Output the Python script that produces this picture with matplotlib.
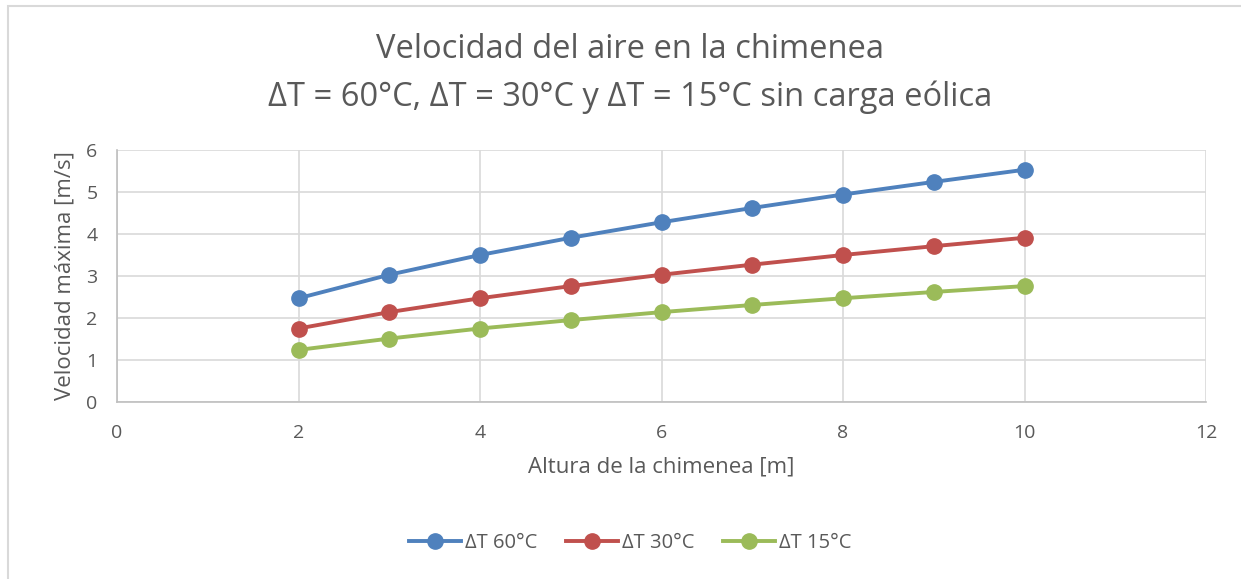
import matplotlib
matplotlib.use('Agg')
from matplotlib import pyplot as plt
from matplotlib.patches import Rectangle

# datos
altura = [2, 3, 4, 5, 6, 7, 8, 9, 10]
v_60 = [2.47, 3.03, 3.50, 3.91, 4.28, 4.62, 4.94, 5.24, 5.53]
v_30 = [1.75, 2.14, 2.47, 2.76, 3.03, 3.27, 3.50, 3.71, 3.91]
v_15 = [1.24, 1.51, 1.75, 1.95, 2.14, 2.31, 2.47, 2.62, 2.76]
etiquetas = ['ΔT 60°C', 'ΔT 30°C', 'ΔT 15°C']
colores = ['#4F81BD', '#C0504D', '#9BBB59']

plt.rcParams['font.family'] = ['Open Sans', 'DejaVu Sans']
gris = '#595959'

fig = plt.figure(figsize=(12.41, 5.79), dpi=100)
ax = fig.add_axes([117 / 1241, 1 - 402 / 579, (1206 - 117) / 1241, (402 - 150) / 579])

# borde exterior del gráfico
fig.patches.append(Rectangle((8 / 1241, -0.01), 1.0, 1 - 6 / 579 + 0.01,
                             transform=fig.transFigure, fill=False,
                             edgecolor='#d9d9d9', linewidth=1.5))

for serie, etq, col in zip([v_60, v_30, v_15], etiquetas, colores):
    ax.plot(altura, serie, color=col, lw=2.8, marker='o', ms=11, label=etq, zorder=3)

ax.set_xlim(0, 12)
ax.set_ylim(0, 6)
ax.set_xticks(range(0, 13, 2))
ax.set_yticks(range(0, 7))
ax.grid(True, color='#d9d9d9', lw=1.2)
ax.set_axisbelow(True)
for s in ['top', 'right']:
    ax.spines[s].set_visible(False)
for s in ['left', 'bottom']:
    ax.spines[s].set_color('#bfbfbf')
    ax.spines[s].set_linewidth(1.2)
ax.tick_params(length=0, labelsize=14, colors=gris)
ax.tick_params(axis='x', pad=16)
ax.tick_params(axis='y', pad=14)

ax.set_xlabel('Altura de la chimenea [m]', fontsize=16, color=gris, labelpad=10)
ax.set_ylabel('Velocidad máxima [m/s]', fontsize=16, color=gris, labelpad=8)

fig.text(0.508, 1 - 50 / 579, 'Velocidad del aire en la chimenea', ha='center', va='center',
         fontsize=23.5, color=gris)
fig.text(0.508, 1 - 97 / 579, 'ΔT = 60°C, ΔT = 30°C y ΔT = 15°C sin carga eólica', ha='center',
         va='center', fontsize=23.5, color=gris)

leg = fig.legend(loc='center', bbox_to_anchor=(0.508, 1 - 543 / 579), ncol=3, frameon=False,
                 fontsize=14.5, handlelength=2.6, columnspacing=1.4, handletextpad=0.2)
for t in leg.get_texts():
    t.set_color(gris)

fig.savefig('out.png', dpi=100)
